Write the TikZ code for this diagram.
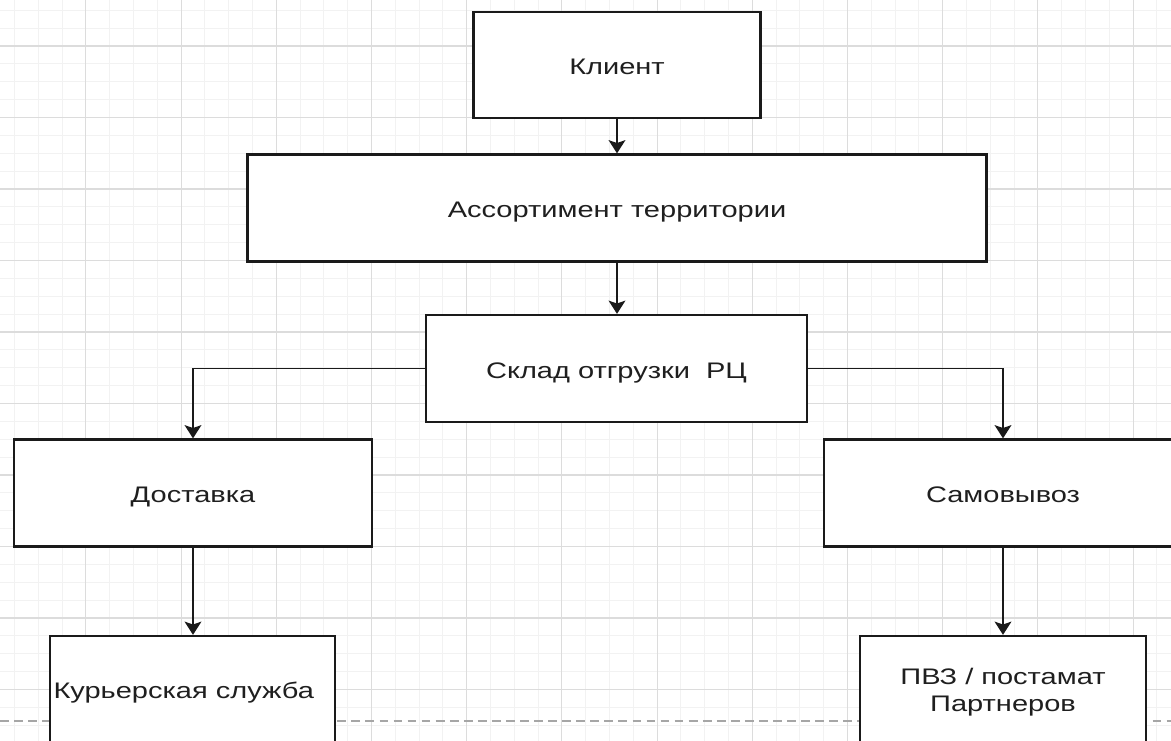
\documentclass[tikz,border=0pt]{standalone}
\usepackage{fontspec}
% labels are set in a horizontally widened sans face
\setmainfont{Liberation Sans}[FakeStretch=1.29]
\usetikzlibrary{arrows.meta}
\def\u{0.02cm}
\definecolor{inkline}{HTML}{1A1A1A}
\definecolor{inktext}{HTML}{1F1F1F}
\definecolor{gridmajor}{HTML}{DCDCDC}
\definecolor{gridminor}{HTML}{F2F2F2}
\tikzset{
  stepbox/.style={draw=inkline, line width=1.3pt, fill=white, rectangle,
    inner sep=0pt, text=inktext, font=\fontsize{12.8}{14.9}\selectfont, align=center,
    text height=13pt, text depth=2pt},
  flow/.style={draw=inkline, line width=1.1pt,
    -{Stealth[width=9.5pt,length=7.5pt,inset=1.6pt]}},
  guide/.style={draw=gray!70, line width=0.6pt, dash pattern=on 5pt off 3pt},
}
\begin{document}
\begin{tikzpicture}[x=\u, y=-\u]
  \clip (0,0) rectangle (1171,741);
  \fill[white] (0,0) rectangle (1171,741);
  % background grid: minor and major lines
  \foreach \i in {0,...,50} {
    \draw[gridminor, line width=0.5pt] ({-9.3+23.8*\i},0) -- ({-9.3+23.8*\i},741);
  }
  \foreach \j in {0,...,45} {
    \draw[gridminor, line width=0.5pt] (0,{-25.5+17.875*\j}) -- (1171,{-25.5+17.875*\j});
  }
  \foreach \i in {0,...,13} {
    \draw[gridmajor, line width=0.6pt] ({-9.3+95.2*\i},0) -- ({-9.3+95.2*\i},741);
  }
  \foreach \j in {0,...,11} {
    \draw[gridmajor, line width=0.6pt] (0,{-25.5+71.5*\j}) -- (1171,{-25.5+71.5*\j});
  }
  % page break guide
  \draw[guide] (0,721) -- (1171,721);

  % boxes
  \node[stepbox, minimum width=287*\u, minimum height=106*\u] (klient) at (617,65) {Клиент};
  \node[stepbox, minimum width=739*\u, minimum height=107*\u] (assort) at (617,208) {Ассортимент территории};
  \node[stepbox, minimum width=381*\u, minimum height=107*\u] (sklad) at (616.5,368.5) {Склад отгрузки\ \ РЦ};
  \node[stepbox, minimum width=358*\u, minimum height=107*\u] (dost) at (193,493) {Доставка};
  \node[stepbox, minimum width=358*\u, minimum height=107*\u] (samo) at (1003,493) {Самовывоз};
  \node[stepbox, minimum width=285*\u, minimum height=106*\u] (kur) at (192.5,689) {\hspace*{-10pt}Курьерская служба};
  \node[stepbox, text height={}, text depth={}, minimum width=286*\u, minimum height=106*\u] (pvz) at (1003,689)
    {\raisebox{-2.1pt}[\height][\depth]{\begin{tabular}{@{}c@{}}ПВЗ / постамат\\Партнеров\end{tabular}}};

  % connectors
  \draw[flow] (klient.south) -- (klient.south |- assort.north);
  \draw[flow] (assort.south) -- (assort.south |- sklad.north);
  \draw[flow] (sklad.west) -| (dost.north);
  \draw[flow] (sklad.east) -| (samo.north);
  \draw[flow] (dost.south) -- (dost.south |- kur.north);
  \draw[flow] (samo.south) -- (pvz.north);
\end{tikzpicture}
\end{document}
